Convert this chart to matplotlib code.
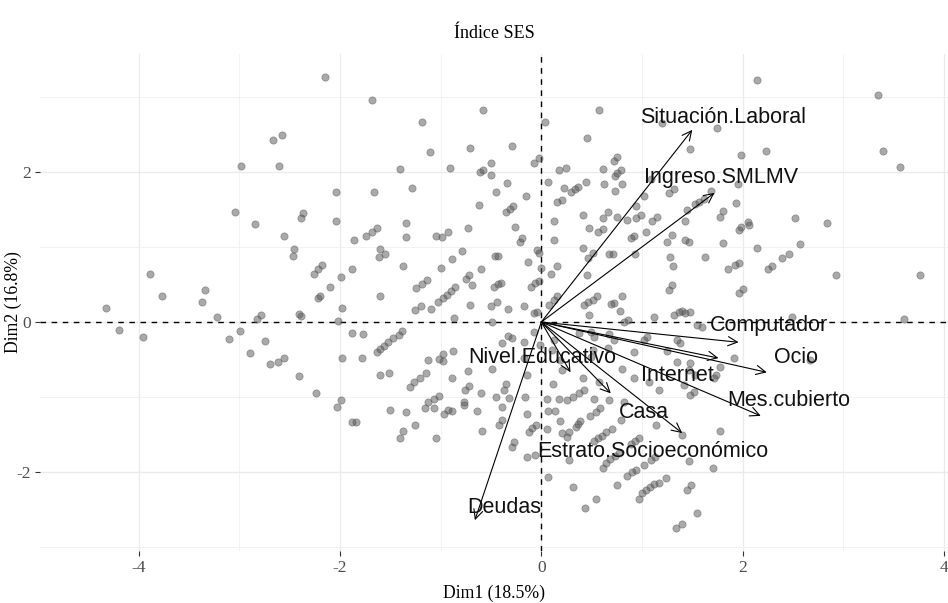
import matplotlib
matplotlib.use("Agg")
import matplotlib.pyplot as plt
from matplotlib.ticker import MultipleLocator

plt.rcParams["axes.unicode_minus"] = False

ind_x = [
    -2.58, -2.67, -2.98, -2.61, -3.04, -2.84, -2.39, -2.37,
    -2.15, -1.68, -1.19, -1.11, -1.40, -2.04, -1.66, -1.28, -0.58, -0.71, -0.29, -0.91, -0.61,
    -0.58, -0.50, -0.50, -0.34, -0.45, -0.62, -0.35, -0.31, -0.28, -2.04, -1.34,
    0.04, 0.57, 0.45, 1.20, 1.75, 1.48, -0.07, -0.02, 0.07, -0.15, 0.18, 0.25, 0.23, 0.29, 0.33,
    0.36, 0.44, 0.16, 0.21, 0.61, 0.62, 0.72, 0.75, 0.79, 0.75, 0.73, 0.80, 0.73, 1.09, 1.02, 1.27,
    1.32, 1.69, 1.62, 1.57, 1.53, 1.45, 1.80, 1.78, 0.13, 0.41, 0.61, 0.66, 0.75, 0.85, 0.94, 0.99,
    1.10, 1.15, 1.43, 0.94,
    2.14, 3.34, 1.98, 2.23, 3.39, 3.56, 1.95, 1.93, 2.05, 2.52, 2.84,
    -2.56, -2.46, -2.47, -3.89, -3.77, -3.34, -3.37, -4.32, -3.22, -4.20, -3.96, -3.10, -2.99, -2.82,
    -2.78, -2.74, -2.89, -2.70, -2.62, -2.56, -2.41, -2.41, -2.39,
    -1.86, -1.74, -1.68, -1.63, -1.34,
    -1.05, -0.99, -0.93, -0.73, -0.26, -1.60, -1.55, -1.61, -1.37, -2.26, -2.22, -2.18, -1.99, -1.88,
    -2.10, -2.22, -2.20, -1.60, -1.98, -2.02, -1.24, -1.19, -1.14, -1.25, -1.20, -1.10, -1.03, -0.98,
    -0.94, -0.90, -0.86, -1.00, -0.89, -0.79, -0.60, -0.75, -0.72, -0.69, -0.71, -0.46, -0.43, -0.47,
    -0.43, -0.40, -0.50, -0.44, -0.33, -0.87, -0.49, -1.88, -1.77, -1.38, -1.41, -1.47, -1.52, -1.56,
    -1.60, -1.63, -1.98, -1.78, -1.13, -0.98, -1.02, -0.98, -0.88, -0.39, -0.33, -0.29, -1.60, -1.51,
    -1.30, -1.26, -1.21, -1.15, -0.89, -0.73, -2.24, -1.99, -1.13, -1.07, -1.02, -0.76, -0.72, -0.60,
    -0.77, -0.45, -0.37, -0.35, -0.49, -0.32,
    -0.19, -0.21, 0.13, 0.47, 0.56, 0.61, 0.89, 0.92, 1.04, 1.25, 1.30, 1.43, 1.47, 1.80,
    -0.04, -0.02, 0.41, 0.51, 0.46, 0.67, 0.71, 0.93, 1.28, 1.31, 1.63, 1.85,
    -0.13, 0.00, 0.16, 0.10, 0.45, -0.10, -0.06, -0.02, 1.30, 1.27,
    0.16, 0.13, 0.08, 0.42, 0.46, 0.51, 0.55, 0.69, 0.72, 0.80, 0.78,
    -0.17, -0.07, -0.04, 0.47, 0.82, 0.86, 1.12, 1.32, 1.37, 1.40, 1.43, 1.48, 1.55, 1.60,
    -0.07, -0.17, 0.13, 0.37, 0.49, 0.52, 0.67, 0.72, 1.05, 1.02, 1.35, 1.38,
    -0.01, 0.11, 0.51, 0.66, 0.92, 1.25, 1.48, 1.78,
    -0.17, 0.19, 0.21, 0.49, 0.80, 0.92, 1.07, 1.35, 1.47, 1.53, 1.72, 1.74,
    -0.14, 0.12, 0.41, 0.57, 1.17, 1.42, 1.48, 1.52,
    -0.16, 0.06, 0.18, 0.26, 0.31, 0.37, 0.42, 0.52, 0.67, 0.82,
    1.96, 1.98, 2.06, 2.14, 2.57, 2.46, 2.39, 2.29, 2.25, 1.96, 1.92, 2.00, 1.96, 2.93, 3.76, 2.49,
    3.60, 2.67, 1.91,
    -2.03, -1.88, -1.84, -1.50, -1.34, -1.37, -1.40, -1.25, -1.16, -1.07, -1.05, -0.97, -0.93, -0.89,
    -0.77, -0.64, -0.59, -0.39, -0.39, -0.42, -0.27, -0.29,
    -0.14, -0.12, -0.09, -0.05, 0.07, 0.14, 0.19, 0.06, -0.14, -0.06, 0.07,
    0.21, 0.26, 0.28, 0.34, 0.36, 0.38, 0.48, 0.54, 0.58,
    0.28, 0.31, 0.54, 0.43, 0.79,
    0.52, 0.56, 0.60, 0.64, 0.70,
    0.61, 0.64, 0.68, 0.73, 0.77, 0.75, 0.85, 0.90, 0.94,
    0.89, 0.93, 0.97, 1.02, 1.09, 1.13, 1.24,
    0.97, 1.00, 1.04, 1.08, 1.12, 1.17,
    1.14, 1.40, 1.47, 1.45, 1.49, 1.55, 1.34, 1.40, 1.71, 1.78,
]
ind_y = [
    2.49, 2.43, 2.08, 2.08, 1.46, 1.30, 1.38, 1.45,
    3.27, 2.96, 2.67, 2.26, 2.04, 1.73, 1.73, 1.79, 2.82, 2.32, 2.35, 2.05, 2.00,
    2.02, 2.12, 1.96, 1.85, 1.73, 1.56, 1.46, 1.51, 1.54, 1.35, 1.32,
    2.66, 2.82, 2.45, 2.65, 2.59, 2.30, 2.12, 2.18, 1.87, 1.68, 2.02, 2.05, 1.79, 1.73, 1.77,
    1.80, 1.86, 1.60, 1.63, 2.04, 1.84, 2.14, 2.20, 2.02, 1.98, 1.94, 1.84, 1.75, 1.90, 1.68, 1.72,
    1.77, 1.74, 1.64, 1.60, 1.57, 1.49, 1.48, 1.40, 1.35, 1.43, 1.38, 1.46, 1.40, 1.36, 1.39, 1.42,
    1.35, 1.40, 1.34, 1.54,
    3.23, 3.03, 2.23, 2.28, 2.28, 2.06, 1.84, 1.58, 1.33, 1.38, 1.32,
    1.15, 0.97, 0.88, 0.64, 0.35, 0.43, 0.27, 0.19, 0.07, -0.10, -0.20, -0.23, -0.12, 0.04,
    0.10, -0.25, -0.41, -0.56, -0.53, -0.48, -0.72, 0.11, 0.08,
    1.09, 1.15, 1.20, 1.25, 1.13,
    1.15, 1.13, 1.20, 1.25, 1.27, 0.97, 0.90, 0.86, 0.74, 0.64, 0.71, 0.76, 0.60, 0.70,
    0.47, 0.32, 0.34, 0.35, 0.19, 0.01, 0.45, 0.50, 0.56, 0.16, 0.21, 0.18, 0.26, 0.32,
    0.36, 0.41, 0.47, 0.72, 0.84, 0.95, 0.70, 0.57, 0.62, 0.49, 0.23, 0.88, 0.88, 0.47,
    0.50, 0.52, 0.21, 0.26, 0.17, 0.05, 0.00, -0.14, -0.16, -0.12, -0.17, -0.21, -0.27, -0.32,
    -0.36, -0.40, -0.48, -0.48, -0.51, -0.42, -0.49, -0.52, -0.39, -0.28, -0.18, -0.21, -0.70, -0.68,
    -0.86, -0.80, -0.75, -0.68, -0.74, -0.65, -0.94, -1.04, -1.06, -1.02, -0.98, -0.90, -0.85, -0.94,
    -1.07, -1.00, -0.91, -0.83, -0.62, -1.01,
    1.12, 1.07, 1.09, 1.25, 1.20, 1.24, 1.12, 1.14, 1.20, 1.07, 1.16, 1.09, 1.06, 1.05,
    0.96, 0.92, 0.98, 0.92, 0.85, 0.90, 0.90, 0.90, 0.86, 0.75, 0.86, 0.70,
    0.80, 0.72, 0.74, 0.64, 0.62, 0.47, 0.52, 0.54, 0.49, 0.43,
    0.34, 0.29, 0.23, 0.23, 0.26, 0.29, 0.34, 0.24, 0.25, 0.35, 0.15,
    0.21, 0.12, 0.13, 0.10, 0.00, 0.03, 0.07, 0.10, 0.13, 0.15, 0.12, 0.13, -0.04, -0.06,
    -0.13, -0.26, -0.24, -0.15, -0.13, -0.20, -0.16, -0.24, -0.20, -0.24, -0.24, -0.28,
    -0.31, -0.37, -0.37, -0.35, -0.40, -0.39, -0.55, -0.60,
    -0.48, -0.51, -0.64, -0.46, -0.62, -0.75, -0.80, -0.53, -0.64, -0.71, -0.75, -0.71,
    -0.71, -0.82, -0.75, -0.80, -0.91, -0.84, -0.97, -0.93,
    -1.00, -1.02, -1.02, -1.04, -1.00, -0.95, -0.91, -1.02, -1.04, -1.06,
    1.23, 1.27, 1.29, 0.99, 1.04, 0.90, 0.85, 0.74, 0.70, 0.78, 0.76, 0.44, 0.39, 0.62, 0.62, 0.07,
    0.04, -0.50, -0.48,
    -1.13, -1.33, -1.33, -1.17, -1.20, -1.45, -1.54, -1.37, -1.15, -1.15, -1.54, -1.23, -1.17, -1.19,
    -1.11, -1.19, -1.45, -1.13, -1.31, -1.37, -1.60, -1.66,
    -1.23, -1.46, -1.41, -1.37, -1.19, -1.19, -1.32, -1.42, -1.80, -1.77, -2.07,
    -1.48, -1.53, -1.47, -1.40, -1.36, -1.32, -1.25, -1.20, -1.15,
    -1.84, -2.20, -2.36, -2.48, -1.31,
    -1.59, -1.54, -1.52, -1.47, -1.43,
    -1.94, -1.88, -1.82, -1.78, -1.74, -2.17, -2.05, -2.00, -1.97,
    -1.62, -1.59, -1.54, -1.90, -1.84, -1.80, -2.08,
    -2.36, -2.28, -2.24, -2.20, -2.16, -2.15,
    -1.37, -1.50, -1.85, -2.24, -2.17, -2.54, -2.75, -2.69, -1.95, -1.45,
]

# Variables (flechas)
var_names = ["Situación.Laboral", "Ingreso.SMLMV", "Computador", "Ocio", "Internet",
             "Mes.cubierto", "Casa", "Estrato.Socioeconómico", "Nivel.Educativo", "Deudas"]
var_x = [1.50, 1.72, 1.96, 2.24, 1.76, 2.18, 1.40, 0.69, 0.29, -0.66]
var_y = [2.56, 1.72, -0.27, -0.67, -0.48, -1.25, -1.48, -0.95, -0.67, -2.64]

# posicion de las etiquetas (repel)
lab_x = [1.81, 1.79, 2.26, 2.53, 1.35, 2.46, 1.02, 1.11, 0.01, -0.37]
lab_y = [2.73, 1.92, -0.04, -0.47, -0.71, -1.04, -1.21, -1.73, -0.47, -2.47]

serif = ["Liberation Serif", "DejaVu Serif"]
sans = ["Liberation Sans", "DejaVu Sans"]

fig = plt.figure(figsize=(9.48, 6.03), dpi=100)
ax = fig.add_axes([40 / 948, 1 - 551 / 603, 908 / 948, 497 / 603])

ax.set_xlim(-4.98, 4.04)
ax.set_ylim(-3.05, 3.57)

ax.xaxis.set_major_locator(MultipleLocator(2))
ax.yaxis.set_major_locator(MultipleLocator(2))
ax.xaxis.set_minor_locator(MultipleLocator(1))
ax.yaxis.set_minor_locator(MultipleLocator(1))
ax.grid(True, which="major", color="#EBEBEB", lw=1.0)
ax.grid(True, which="minor", color="#F0F0F0", lw=0.6)
ax.set_axisbelow(True)
for s in ax.spines.values():
    s.set_visible(False)
ax.tick_params(which="minor", length=0)
ax.tick_params(which="major", length=3.5, width=0.8, color="#333333", pad=3,
               labelsize=12.5, labelcolor="#4D4D4D")
for lab in ax.get_xticklabels() + ax.get_yticklabels():
    lab.set_family(serif)

ax.axhline(0, color="black", lw=1.0, ls=(0, (4, 4)), zorder=2)
ax.axvline(0, color="black", lw=1.0, ls=(0, (4, 4)), zorder=2)

ax.scatter(ind_x, ind_y, s=27, color="#555555", alpha=0.5, linewidths=0.6, zorder=3)

for i in range(len(var_names)):
    ax.annotate("", xy=(var_x[i], var_y[i]), xytext=(0, 0),
                arrowprops=dict(arrowstyle="->,head_length=0.45,head_width=0.22",
                                lw=0.8, color="black", shrinkA=0, shrinkB=0,
                                mutation_scale=15),
                zorder=4)
    ax.text(lab_x[i], lab_y[i], var_names[i], ha="center", va="center",
            fontsize=15.5, family=sans, color="#111111", zorder=5)

fig.text(494 / 948, 1 - 33 / 603, "Índice SES", ha="center", va="center",
         fontsize=13, family=serif)
fig.text(494 / 948, 1 - 593 / 603, "Dim1 (18.5%)", ha="center", va="center",
         fontsize=12.7, family=serif)
fig.text(13 / 948, 1 - 302 / 603, "Dim2 (16.8%)", ha="center", va="center",
         rotation=90, fontsize=12.7, family=serif)

fig.savefig("out.png", dpi=100)
